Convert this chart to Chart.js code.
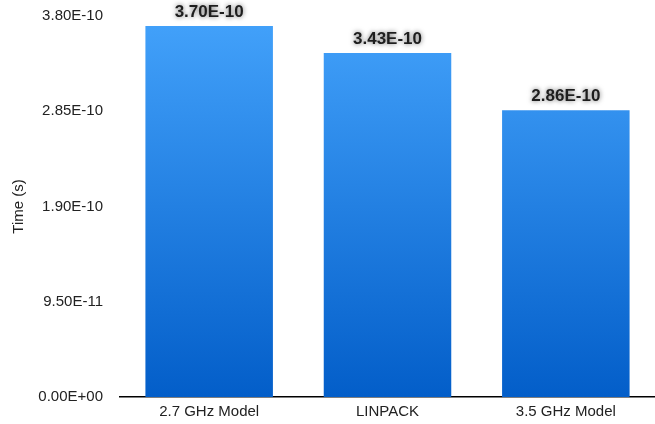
<!DOCTYPE html>
<html lang="en">
<head>
    <meta charset="UTF-8">
    <title>Time per operation</title>
    <script src="https://cdn.jsdelivr.net/npm/chart.js"></script>
    <style>
        html, body {
            margin: 0;
            padding: 0;
            background: #ffffff;
        }
        .chart-box {
            position: relative;
            width: 655px;
            height: 424px;
        }
    </style>
</head>
<body>
    <div class="chart-box">
        <canvas id="timeChart"></canvas>
    </div>

    <script>
        // Measured times in seconds
        const models = ['2.7 GHz Model', 'LINPACK', '3.5 GHz Model'];
        const times = [3.70e-10, 3.43e-10, 2.86e-10];
        const yTicks = [0, 0.95e-10, 1.90e-10, 2.85e-10, 3.80e-10];

        // 3.70e-10 -> "3.70E-10", 0 -> "0.00E+00"
        function sci(v) {
            const parts = v.toExponential(2).split('e');
            const exp = parts[1];
            return parts[0] + 'E' + exp[0] + exp.slice(1).padStart(2, '0');
        }

        const FONT = '"Liberation Sans", Arial, Helvetica, sans-serif';

        function barGradient(context) {
            const chart = context.chart;
            const area = chart.chartArea;
            if (!area) return '#2b85e8';
            const g = chart.ctx.createLinearGradient(0, area.top, 0, area.bottom);
            g.addColorStop(0, '#43a2fb');
            g.addColorStop(1, '#035ec9');
            return g;
        }

        // value text above each bar, with a soft dark shadow
        const valueLabels = {
            id: 'valueLabels',
            afterDatasetsDraw(chart) {
                const ctx = chart.ctx;
                const meta = chart.getDatasetMeta(0);
                ctx.save();
                ctx.font = 'bold 17px ' + FONT;
                ctx.textAlign = 'center';
                ctx.textBaseline = 'bottom';
                ctx.fillStyle = '#1e1e1e';
                ctx.shadowColor = 'rgba(0, 0, 0, 0.6)';
                ctx.shadowBlur = 5;
                meta.data.forEach((bar, i) => {
                    ctx.fillText(sci(times[i]), bar.x, bar.y - 5);
                });
                ctx.restore();
            }
        };

        new Chart(document.getElementById('timeChart'), {
            type: 'bar',
            data: {
                labels: models,
                datasets: [{
                    data: times,
                    backgroundColor: barGradient,
                    borderWidth: 0,
                    categoryPercentage: 1,
                    barPercentage: 0.715
                }]
            },
            options: {
                responsive: true,
                maintainAspectRatio: false,
                animation: false,
                layout: {
                    padding: { top: 16, right: 0, bottom: 0, left: 0 }
                },
                plugins: {
                    legend: { display: false },
                    tooltip: { enabled: false }
                },
                scales: {
                    x: {
                        grid: { display: false, drawTicks: false },
                        border: { display: true, color: '#000000', width: 1.5 },
                        afterFit(scale) {
                            scale.height = 27;
                        },
                        ticks: {
                            color: '#222222',
                            padding: 6,
                            font: { family: FONT, size: 15 }
                        }
                    },
                    y: {
                        min: 0,
                        max: 3.8e-10,
                        grid: { display: false, drawTicks: false },
                        border: { display: false },
                        afterBuildTicks(scale) {
                            scale.ticks = yTicks.map(v => ({ value: v }));
                        },
                        afterFit(scale) {
                            scale.width = 120;
                            // plot fills the full height between the paddings
                            scale.paddingTop = 0;
                            scale.paddingBottom = 0;
                        },
                        ticks: {
                            color: '#222222',
                            padding: 17,
                            font: { family: FONT, size: 15 },
                            callback: v => sci(v)
                        },
                        title: {
                            display: true,
                            text: 'Time (s)',
                            color: '#222222',
                            padding: { top: 10, bottom: 0 },
                            font: { family: FONT, size: 15 }
                        }
                    }
                }
            },
            plugins: [valueLabels]
        });
    </script>
</body>
</html>
